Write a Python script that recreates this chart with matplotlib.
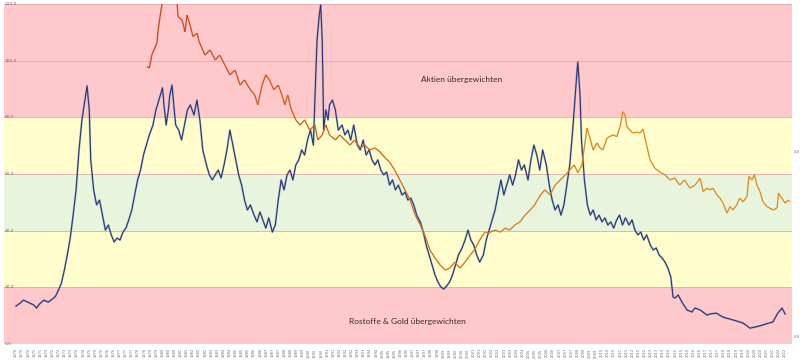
import numpy as np
import matplotlib
matplotlib.use('Agg')
import matplotlib.pyplot as plt
from matplotlib.collections import LineCollection
from matplotlib.colors import LinearSegmentedColormap

# blue series (commodity/gold vs. stocks ratio), decimal year -> value
blue_year = [1970.0, 1970.3, 1970.5, 1970.8, 1971.2, 1971.4, 1971.6, 1971.9, 1972.2, 1972.5,
             1972.7, 1972.9, 1973.1, 1973.3, 1973.5, 1973.7, 1973.9, 1974.1, 1974.3, 1974.5,
             1974.7, 1974.85, 1975.0, 1975.1, 1975.3, 1975.5, 1975.7, 1975.9, 1976.1, 1976.3,
             1976.5, 1976.7, 1976.9, 1977.1, 1977.3, 1977.5, 1977.7, 1977.9, 1978.1, 1978.3,
             1978.5, 1978.7, 1978.9, 1979.1, 1979.35, 1979.55, 1979.75, 1980.0, 1980.1, 1980.25,
             1980.4, 1980.5, 1980.65, 1980.8, 1980.9, 1981.1, 1981.3, 1981.5, 1981.7, 1981.9,
             1982.15, 1982.35, 1982.55, 1982.75, 1983.0, 1983.2, 1983.4, 1983.6, 1983.8, 1984.0,
             1984.2, 1984.4, 1984.6, 1984.8, 1985.0, 1985.2, 1985.4, 1985.6, 1985.8, 1986.0,
             1986.25, 1986.45, 1986.65, 1986.85, 1987.05, 1987.25, 1987.5, 1987.7, 1987.9, 1988.1,
             1988.3, 1988.5, 1988.7, 1988.9, 1989.1, 1989.3, 1989.5, 1989.7, 1989.9, 1990.1,
             1990.3, 1990.4, 1990.55, 1990.7, 1990.8, 1990.9, 1990.95, 1991.0, 1991.15, 1991.3,
             1991.4, 1991.6, 1991.8, 1992.0, 1992.25, 1992.45, 1992.65, 1992.85, 1993.05, 1993.3,
             1993.5, 1993.7, 1993.9, 1994.1, 1994.3, 1994.5, 1994.7, 1994.9, 1995.1, 1995.3,
             1995.5, 1995.7, 1995.9, 1996.1, 1996.35, 1996.55, 1996.75, 1996.95, 1997.15, 1997.35,
             1997.6, 1997.8, 1998.0, 1998.2, 1998.4, 1998.6, 1998.8, 1999.0, 1999.2, 1999.4,
             1999.6, 1999.8, 2000.0, 2000.2, 2000.45, 2000.65, 2000.85, 2001.05, 2001.25, 2001.45,
             2001.65, 2001.9, 2002.1, 2002.3, 2002.5, 2002.7, 2002.9, 2003.1, 2003.3, 2003.5,
             2003.7, 2003.9, 2004.1, 2004.3, 2004.5, 2004.7, 2004.95, 2005.15, 2005.35, 2005.55,
             2005.75, 2005.95, 2006.2, 2006.4, 2006.6, 2006.8, 2007.0, 2007.2, 2007.4, 2007.6,
             2007.8, 2008.0, 2008.15, 2008.3, 2008.35, 2008.5, 2008.6, 2008.8, 2009.0, 2009.2,
             2009.4, 2009.6, 2009.8, 2010.0, 2010.2, 2010.4, 2010.6, 2010.8, 2011.0, 2011.2,
             2011.4, 2011.6, 2011.85, 2012.05, 2012.25, 2012.45, 2012.65, 2012.85, 2013.05, 2013.3,
             2013.5, 2013.7, 2013.9, 2014.1, 2014.3, 2014.5, 2014.7, 2014.85, 2014.98, 2015.2,
             2015.46, 2015.8, 2016.14, 2016.35, 2016.7, 2017.17, 2017.37, 2017.8, 2018.26, 2018.74,
             2019.2, 2019.63, 2020.1, 2020.78, 2021.2, 2021.67, 2022.0, 2022.29, 2022.5]
blue_val = [13.4, 14.5, 15.5, 14.8, 13.8, 12.7, 14.1, 15.5, 14.8, 15.9,
            16.9, 19.1, 21.5, 26.1, 31.4, 37.4, 45.5, 54.4, 68.5, 79.1,
            86.1, 91.1, 82.6, 65.0, 54.4, 49.1, 50.8, 45.5, 40.2, 42.0,
            38.5, 36.0, 37.4, 36.7, 39.5, 40.9, 43.8, 47.3, 52.6, 57.9,
            61.4, 66.7, 70.2, 73.8, 77.3, 82.6, 86.1, 90.4, 84.4, 77.3,
            82.6, 87.9, 91.4, 82.6, 77.3, 75.5, 72.0, 77.3, 82.6, 84.4,
            80.8, 86.1, 79.1, 68.5, 63.2, 59.7, 57.9, 59.7, 61.4, 58.6,
            63.2, 68.5, 75.5, 70.2, 65.0, 59.7, 56.1, 50.8, 47.3, 49.1,
            45.5, 43.1, 46.6, 43.8, 40.9, 44.5, 39.5, 42.0, 50.8, 57.9,
            54.4, 59.7, 61.4, 57.9, 63.2, 65.0, 68.5, 66.7, 72.0, 75.5,
            70.2, 86.1, 107.3, 116.1, 119.7, 107.3, 93.2, 75.5, 82.6, 79.1,
            84.4, 86.1, 82.6, 75.5, 77.3, 73.8, 75.5, 72.0, 77.3, 70.2,
            68.5, 72.0, 66.7, 68.5, 65.0, 63.2, 65.0, 61.4, 59.7, 60.7,
            56.1, 57.9, 54.4, 56.1, 52.6, 53.6, 50.8, 51.5, 49.1, 45.5,
            43.1, 39.5, 34.9, 31.4, 27.9, 24.4, 21.9, 20.1, 19.4, 20.5,
            21.9, 24.4, 27.9, 31.4, 33.9, 36.7, 40.2, 36.7, 34.9, 31.4,
            28.9, 31.4, 36.7, 40.2, 43.8, 47.3, 52.6, 57.9, 52.6, 56.1,
            59.7, 56.1, 59.7, 65.0, 61.4, 63.2, 57.9, 65.0, 70.2, 66.7,
            61.4, 68.5, 63.2, 56.1, 50.8, 47.3, 49.1, 45.5, 49.1, 56.1,
            63.2, 75.5, 86.1, 96.7, 99.5, 87.9, 72.0, 57.9, 49.1, 45.5,
            47.3, 43.8, 45.5, 43.1, 44.5, 42.0, 43.1, 40.9, 43.8, 45.5,
            42.0, 44.5, 42.0, 43.8, 40.2, 38.5, 39.5, 36.7, 38.5, 34.9,
            33.2, 33.9, 31.4, 30.4, 28.9, 26.8, 23.6, 16.6, 16.2, 17.3,
            14.8, 12.0, 11.3, 12.7, 12.0, 10.2, 10.6, 10.9, 9.5, 8.8,
            8.1, 7.4, 5.6, 6.4, 7.1, 7.8, 10.9, 12.7, 10.6]

# orange series, decimal year -> value (values above 120 run off the chart)
orange_year = [1978.94, 1979.1, 1979.28, 1979.42, 1979.62, 1979.7, 1979.83, 1979.97, 1980.2, 1980.5,
               1980.8, 1981.0, 1981.06, 1981.33, 1981.54, 1981.67, 1981.88, 1982.08, 1982.36, 1982.5,
               1982.9, 1983.25, 1983.6, 1983.9, 1984.25, 1984.6, 1984.95, 1985.3, 1985.6, 1986.0,
               1986.3, 1986.5, 1986.8, 1987.05, 1987.3, 1987.6, 1987.9, 1988.15, 1988.35, 1988.55,
               1988.8, 1989.1, 1989.4, 1989.7, 1990.05, 1990.4, 1990.6, 1990.9, 1991.15, 1991.4,
               1991.8, 1992.1, 1992.45, 1992.8, 1993.1, 1993.5, 1993.8, 1994.15, 1994.5, 1994.85,
               1995.2, 1995.5, 1995.85, 1996.2, 1996.55, 1996.9, 1997.25, 1997.6, 1997.9, 1998.25,
               1998.6, 1998.95, 1999.3, 1999.6, 1999.95, 2000.3, 2000.65, 2001.0, 2001.3, 2001.65,
               2002.0, 2002.35, 2002.7, 2003.05, 2003.4, 2003.7, 2004.05, 2004.4, 2004.75, 2005.1,
               2005.4, 2005.8, 2006.1, 2006.45, 2006.8, 2007.15, 2007.5, 2007.8, 2008.1, 2008.36,
               2008.63, 2008.98, 2009.18, 2009.39, 2009.66, 2009.86, 2010.07, 2010.34, 2010.75, 2011.02,
               2011.23, 2011.43, 2011.57, 2011.7, 2011.9, 2012.1, 2012.4, 2012.6, 2012.8, 2013.07,
               2013.28, 2013.6, 2013.96, 2014.3, 2014.64, 2014.98, 2015.3, 2015.64, 2016.0, 2016.35,
               2016.7, 2016.9, 2017.17, 2017.37, 2017.58, 2017.85, 2018.05, 2018.26, 2018.53, 2018.74,
               2018.94, 2019.2, 2019.4, 2019.63, 2019.9, 2020.03, 2020.24, 2020.4, 2020.58, 2020.78,
               2020.99, 2021.26, 2021.47, 2021.67, 2021.95, 2022.05, 2022.29, 2022.5, 2022.7, 2022.83]
orange_val = [97.9, 97.4, 102.2, 103.8, 106.3, 110.8, 115.5, 120.0, 125.0, 128.0,
              125.0, 120.0, 115.5, 114.4, 110.2, 116.1, 112.6, 108.5, 109.7, 106.7,
              102.0, 103.8, 100.2, 102.0, 98.5, 95.0, 96.7, 91.4, 93.2, 89.7,
              87.9, 84.4, 91.4, 95.0, 93.2, 89.7, 91.4, 87.9, 84.4, 87.9,
              82.6, 79.1, 77.3, 79.1, 75.5, 77.3, 72.0, 73.8, 77.3, 73.8,
              72.0, 73.8, 72.0, 70.2, 72.0, 69.2, 70.2, 68.5, 69.2, 67.8,
              65.7, 64.2, 61.4, 57.9, 54.4, 50.8, 45.5, 42.0, 38.5, 33.2,
              30.4, 27.9, 26.1, 26.8, 28.9, 26.8, 28.9, 31.4, 33.2, 36.7,
              39.5, 39.5, 40.2, 39.5, 40.9, 40.2, 42.0, 43.1, 45.5, 47.3,
              49.1, 52.6, 54.4, 52.6, 56.1, 57.9, 59.7, 61.4, 63.2, 60.5,
              63.2, 76.2, 72.7, 68.5, 71.0, 69.2, 68.5, 72.7, 73.8, 73.2,
              76.7, 82.0, 80.8, 76.7, 75.5, 74.5, 74.8, 74.5, 75.9, 69.6,
              65.0, 62.1, 60.7, 59.7, 57.9, 58.6, 56.1, 57.9, 55.0, 56.1,
              58.5, 53.8, 55.0, 54.4, 55.0, 52.6, 51.5, 49.8, 46.2, 48.5,
              47.3, 49.1, 51.5, 50.2, 52.0, 59.1, 57.9, 59.7, 56.1, 53.8,
              50.2, 48.5, 47.9, 47.3, 48.0, 53.2, 51.4, 49.7, 50.8, 50.2]

# background zones: (lower, upper, colour)
zone_lo = [0, 20, 40, 60, 80]
zone_hi = [20, 40, 60, 80, 120]
zone_col = ['#FFC9CB', '#FEFDCB', '#E9F4DD', '#FEFDCB', '#FFC9CB']

y_ticks = [0, 20, 40, 60, 80, 100, 120]

fig = plt.figure(figsize=(8, 3.6), dpi=100)
ax = fig.add_axes([0.005, 0.0444, 0.985, 0.9445])

for lo, hi, c in zip(zone_lo, zone_hi, zone_col):
    ax.axhspan(lo, hi, color=c, lw=0, zorder=0)
for t in y_ticks[1:]:
    ax.axhline(t, color='#E2A9AC', lw=0.6, zorder=1)

# blue line: light halo + navy core
ax.plot(blue_year, blue_val, color='#5E8FB0', lw=1.5, alpha=0.45, zorder=3,
        solid_joinstyle='round')
ax.plot(blue_year, blue_val, color='#2A3478', lw=0.8, zorder=4, solid_joinstyle='round')

# orange line, redder in the early years, more golden later on
pts = np.column_stack([orange_year, orange_val]).reshape(-1, 1, 2)
segs = np.concatenate([pts[:-1], pts[1:]], axis=1)
cmap = LinearSegmentedColormap.from_list('org', ['#D2421C', '#D56A1E', '#D98E22'])
lc = LineCollection(segs, cmap=cmap, lw=0.95, zorder=5)
lc.set_array(np.array(orange_year[:-1]))
lc.set_clim(1979, 2012)
ax.add_collection(lc)

ax.set_xlim(1969.18, 2022.97)
ax.set_ylim(0, 120)

for s in ax.spines.values():
    s.set_visible(False)
ax.set_yticks([])
ax.tick_params(axis='x', length=0, pad=3)

# x tick labels every 5 months
x_ticks = np.arange(1970, 2022.9, 5 / 12)
ax.set_xticks(x_ticks)
ax.set_xticklabels([str(int(np.floor(v + 1e-6))) for v in x_ticks], rotation=90,
                   fontsize=2.6, color='#707070')

# y tick labels sit inside the plot at the left edge
for t in y_ticks:
    ax.text(0.001, t, f"{t},0", transform=ax.get_yaxis_transform(),
            fontsize=3.2, color='#707070', ha='left', va='center', zorder=6)
for t in [67.8, 2.5]:
    ax.text(1.002, t, "0,0", transform=ax.get_yaxis_transform(),
            fontsize=2.8, color='#707070', ha='left', va='center')

ax.text(2000.45, 93.2, "Aktien übergewichten", fontsize=6, family='Lato',
        color='#3A2B2B', ha='center', va='center', zorder=6)
ax.text(1996.7, 7.8, "Rostoffe & Gold übergewichten", fontsize=6, family='Lato',
        color='#3A2B2B', ha='center', va='center', zorder=6)

fig.savefig("out.png", dpi=100)
